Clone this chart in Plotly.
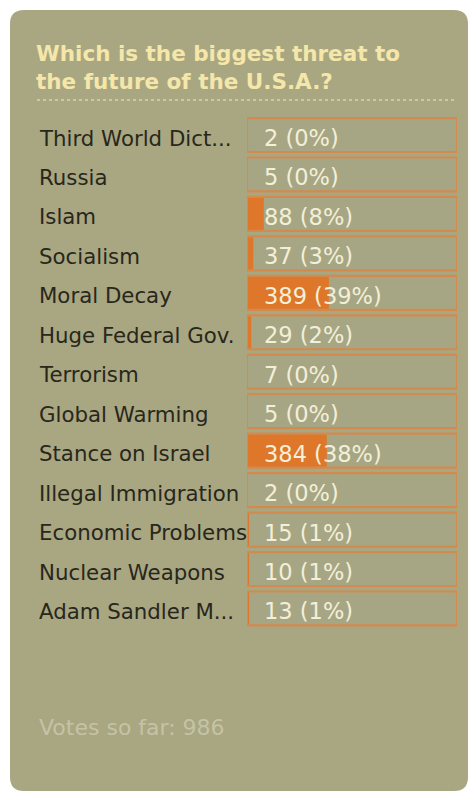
import plotly.graph_objects as go

# ---- data ----
categories = ["Third World Dict...", "Russia", "Islam", "Socialism", "Moral Decay",
              "Huge Federal Gov.", "Terrorism", "Global Warming", "Stance on Israel",
              "Illegal Immigration", "Economic Problems", "Nuclear Weapons",
              "Adam Sandler M..."]
votes = [2, 5, 88, 37, 389, 29, 7, 5, 384, 2, 15, 10, 13]
percents = [0, 0, 8, 3, 39, 2, 0, 0, 38, 0, 1, 1, 1]
full_scale = [100] * len(categories)
title_text = "Which is the biggest threat to<br>the future of the U.S.A.?"
total_votes = 986

W, H = 470, 793
PANEL = "#a9a682"
FILL = "#df772b"
BORDER = "#d38a4e"

fig = go.Figure()
# box background
fig.add_trace(go.Bar(y=categories, x=full_scale, orientation="h",
                     marker=dict(color="#a7a684", line=dict(width=0)),
                     hoverinfo="skip", showlegend=False))
# filled portion
fig.add_trace(go.Bar(y=categories, x=percents, orientation="h",
                     marker=dict(color=FILL, line=dict(width=0)),
                     hoverinfo="skip", showlegend=False))
# outline
fig.add_trace(go.Bar(y=categories, x=full_scale, orientation="h",
                     marker=dict(color="rgba(0,0,0,0)", line=dict(color=BORDER, width=2.2)),
                     hoverinfo="skip", showlegend=False))

annotations = []
for cat, v, p in zip(categories, votes, percents):
    annotations.append(dict(xref="paper", yref="y", x=37 / W, y=cat, xanchor="left",
                            yanchor="middle", text=cat, showarrow=False, yshift=-3,
                            font=dict(family="DejaVu Sans", size=21.3, color="#28271b")))
    annotations.append(dict(xref="x", yref="y", x=0, y=cat, xanchor="left", xshift=15,
                            yanchor="middle", text=f"{v} ({p}%)", showarrow=False,
                            yshift=-3,
                            font=dict(family="DejaVu Sans", size=22.5, color="#f3efd8")))

annotations.append(dict(xref="paper", yref="paper", x=34 / W, y=1 - 39 / H,
                        xanchor="left", yanchor="top", align="left", text=title_text,
                        showarrow=False,
                        font=dict(family="DejaVu Sans", size=21.5, color="#f5e7a9",
                                  weight="bold")))
annotations.append(dict(xref="paper", yref="paper", x=37 / W, y=1 - 727 / H,
                        xanchor="left", yanchor="middle",
                        text=f"Votes so far: {total_votes}", showarrow=False,
                        font=dict(family="DejaVu Sans", size=22, color="#c5c3a6")))

# rounded panel path in paper coords
x0, x1 = 10 / W, 468 / W
y0, y1 = 1 - 791 / H, 1 - 10 / H
rx, ry = 14 / W, 14 / H
panel_path = (f"M {x0+rx},{y1} L {x1-rx},{y1} Q {x1},{y1} {x1},{y1-ry} "
              f"L {x1},{y0+ry} Q {x1},{y0} {x1-rx},{y0} L {x0+rx},{y0} "
              f"Q {x0},{y0} {x0},{y0+ry} L {x0},{y1-ry} Q {x0},{y1} {x0+rx},{y1} Z")

shapes = [
    dict(type="path", xref="paper", yref="paper", path=panel_path,
         fillcolor=PANEL, line=dict(width=0), layer="below"),
    dict(type="line", xref="paper", yref="paper", x0=37 / W, x1=455 / W,
         y0=1 - 100 / H, y1=1 - 100 / H, line=dict(color="#dcd5a6", width=1.5, dash="dot"),
         layer="below"),
]

fig.update_layout(
    width=W, height=H,
    margin=dict(l=0, r=0, t=0, b=0),
    paper_bgcolor="white", plot_bgcolor="rgba(0,0,0,0)",
    barmode="overlay", bargap=0.14,
    showlegend=False,
    xaxis=dict(domain=[247 / W, 457 / W], range=[0, 100], visible=False, fixedrange=True),
    yaxis=dict(domain=[1 - 628.2 / H, 1 - 115.3 / H], autorange="reversed",
               visible=False, fixedrange=True, categoryorder="array",
               categoryarray=categories),
    annotations=annotations,
    shapes=shapes,
)

fig.write_html("out.html", config={"displayModeBar": False},
               post_script="document.body.style.margin='0';document.body.style.padding='0';")
